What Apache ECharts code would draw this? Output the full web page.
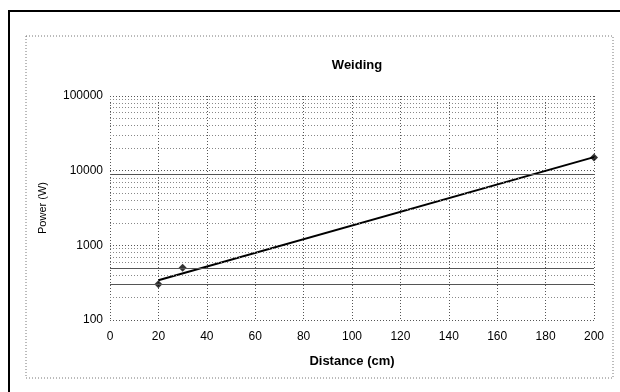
<!DOCTYPE html>
<html>
<head>
<meta charset="utf-8">
<script src="https://cdn.jsdelivr.net/npm/echarts@6/dist/echarts.min.js"></script>
<style>
  html, body { margin: 0; padding: 0; background: #fff; }
  #chart { width: 620px; height: 392px; }
</style>
</head>
<body>
<div id="chart"></div>
<script>
// measured points
const distance = [20, 30, 200]
const power = [300, 500, 15000]
// exponential trend line, read at its two ends
const trendDistance = [20, 200]
const trendPower = [340, 15200]
// axis ticks
const xTicks = [0, 20, 40, 60, 80, 100, 120, 140, 160, 180, 200]
const yTicks = [100, 1000, 10000, 100000]
// minor gridlines of the log axis
const minorGrid = [200, 300, 400, 500, 600, 700, 800, 900,
  2000, 3000, 4000, 5000, 6000, 7000, 8000, 9000,
  20000, 30000, 40000, 50000, 60000, 70000, 80000, 90000]
// darker lines left by the scan
const darkGrid = [300, 500, 9000]

const chart = echarts.init(document.getElementById('chart'))
const font = 'Liberation Sans, Arial, sans-serif'

chart.setOption({
  animation: false,
  backgroundColor: '#fff',
  textStyle: { fontFamily: font, color: '#000' },
  title: {
    text: 'Weiding',
    left: 352,
    top: 54,
    textAlign: 'center',
    textStyle: { fontSize: 13, fontWeight: 'bold', color: '#000', fontFamily: font },
  },
  graphic: [
    // outer frame of the scan
    { type: 'polyline', silent: true, shape: { points: [[9, 392], [9, 11], [620, 11]] },
      style: { stroke: '#000', lineWidth: 2, fill: null } },
    // chart area border
    { type: 'rect', silent: true, shape: { x: 26, y: 36, width: 587, height: 342 },
      style: { stroke: '#777', lineWidth: 1, lineDash: [1, 2], fill: null } },
  ],
  grid: { left: 110, right: 26, top: 96, bottom: 72 },
  xAxis: {
    type: 'value',
    min: xTicks[0],
    max: xTicks[xTicks.length - 1],
    interval: 20,
    name: 'Distance (cm)',
    nameLocation: 'middle',
    nameGap: 35,
    nameTextStyle: { fontSize: 13, fontWeight: 'bold', color: '#000' },
    axisLine: { show: false },
    axisTick: { show: false },
    axisLabel: { fontSize: 12, color: '#000', margin: 11 },
    splitLine: { show: true, lineStyle: { color: '#555', type: [1, 2], width: 1 } },
  },
  yAxis: {
    type: 'log',
    logBase: 10,
    min: yTicks[0],
    max: yTicks[yTicks.length - 1],
    name: 'Power (W)',
    nameLocation: 'middle',
    nameGap: 62,
    nameTextStyle: { fontSize: 11, color: '#000' },
    axisLine: { show: false },
    axisTick: { show: false },
    axisLabel: { fontSize: 12, color: '#000', margin: 7, formatter: v => String(Math.round(v)) },
    splitLine: { show: true, lineStyle: { color: '#555', type: [1, 2], width: 1 } },
  },
  series: [
    {
      type: 'line',
      name: 'grid',
      data: [],
      silent: true,
      markLine: {
        silent: true,
        symbol: 'none',
        label: { show: false },
        lineStyle: { color: '#888', type: [1, 2], width: 1 },
        data: minorGrid.map(v => ({ yAxis: v }))
          .concat(darkGrid.map(v => ({ yAxis: v, lineStyle: { color: '#555', type: 'solid', width: 1 } }))),
      },
    },
    {
      type: 'line',
      name: 'trend',
      data: trendDistance.map((d, i) => [d, trendPower[i]]),
      symbol: 'none',
      lineStyle: { color: '#000', width: 2 },
      z: 3,
    },
    {
      type: 'scatter',
      name: 'Power',
      data: distance.map((d, i) => [d, power[i]]),
      symbol: 'diamond',
      symbolSize: 8,
      itemStyle: { color: '#000' },
      z: 4,
    },
  ],
})
</script>
</body>
</html>
